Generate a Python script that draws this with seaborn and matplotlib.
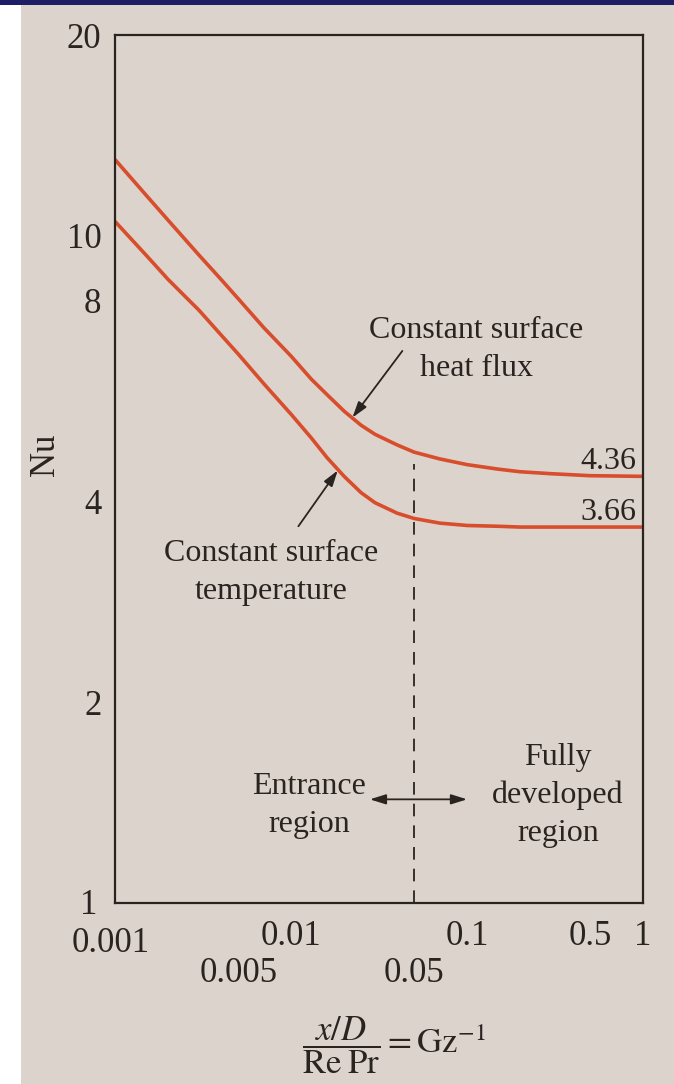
import matplotlib
matplotlib.use("Agg")
import matplotlib.pyplot as plt
import matplotlib.ticker as mticker
from matplotlib.patches import Rectangle
import pandas as pd
import seaborn as sns

# values (log-log)
gz_inv = [0.001, 0.0015, 0.002, 0.003, 0.004, 0.005, 0.007, 0.01, 0.013, 0.016,
          0.02, 0.025, 0.03, 0.04, 0.05, 0.07, 0.1, 0.15, 0.2, 0.3, 0.5, 1.0]
nu_heat_flux = [13.0, 11.5, 10.55, 9.35, 8.6, 8.05, 7.28, 6.6, 6.1, 5.78,
                5.46, 5.2, 5.04, 4.86, 4.74, 4.63, 4.54, 4.47, 4.43, 4.40, 4.37, 4.36]
nu_wall_temp = [10.5, 9.35, 8.6, 7.73, 7.1, 6.65, 6.0, 5.4, 4.98, 4.65,
                4.36, 4.12, 3.98, 3.84, 3.77, 3.71, 3.68, 3.67, 3.66, 3.66, 3.66, 3.66]

x_major = [0.001, 0.01, 0.1, 0.5, 1.0]
x_major_labels = ["", "0.01", "0.1", "0.5", "1"]   # 0.001 is placed by hand below
x_minor = [0.005, 0.05]
x_minor_labels = ["0.005", "0.05"]
y_ticks = [1, 2, 4, 8, 10, 20]
y_labels = ["", "2", "4", "8", "10", "20"]         # 1 is placed by hand at the corner

boundary_x = 0.05
fd_heat_flux = 4.36
fd_wall_temp = 3.66

paper = "#dcd3cc"
ink = "#2a2421"
red = "#d84d2c"

sns.set_theme(style="white")
plt.rcParams["font.family"] = ["Liberation Serif", "DejaVu Serif"]
plt.rcParams["mathtext.fontset"] = "stix"
plt.rcParams["text.color"] = ink

df = pd.DataFrame({
    "gz": gz_inv * 2,
    "nu": nu_heat_flux + nu_wall_temp,
    "case": ["heat flux"] * len(gz_inv) + ["temperature"] * len(gz_inv),
})

fig = plt.figure(figsize=(6.74, 10.84), dpi=100, facecolor=paper)
ax = fig.add_axes([0.171, 0.167, 0.783, 0.8007])
ax.set_facecolor(paper)

# scan artefacts: white strip on the left, dark rule on top
fig.patches.append(Rectangle((0, 0), 21 / 674, 1, transform=fig.transFigure,
                             facecolor="white", edgecolor="none", zorder=0))
fig.patches.append(Rectangle((0, 1 - 5 / 1084), 1, 5 / 1084, transform=fig.transFigure,
                             facecolor="#1e1e66", edgecolor="none", zorder=0))

sns.lineplot(data=df, x="gz", y="nu", hue="case", palette=[red, red],
             linewidth=2.6, legend=False, ax=ax, sort=False)

ax.set_xscale("log")
ax.set_yscale("log")
ax.set_xlim(0.001, 1)
ax.set_ylim(1, 20)
ax.set_xlabel("")

# boundary between entrance and fully developed region
ax.plot([boundary_x, boundary_x], [1, 4.55], color=ink, lw=1.3, dashes=(7, 5))

ax.xaxis.set_major_locator(mticker.FixedLocator(x_major))
ax.xaxis.set_major_formatter(mticker.FixedFormatter(x_major_labels))
ax.xaxis.set_minor_locator(mticker.FixedLocator(x_minor))
ax.xaxis.set_minor_formatter(mticker.FixedFormatter(x_minor_labels))
ax.yaxis.set_major_locator(mticker.FixedLocator(y_ticks))
ax.yaxis.set_major_formatter(mticker.FixedFormatter(y_labels))
ax.yaxis.set_minor_locator(mticker.NullLocator())

ax.tick_params(axis="x", which="major", direction="in", length=11, width=1.3,
               pad=12, labelsize=25, colors=ink)
ax.tick_params(axis="x", which="minor", direction="out", length=29, width=1.3,
               pad=10, labelsize=25, colors=ink)
ax.tick_params(axis="y", which="major", direction="in", length=11, width=1.3,
               pad=10, labelsize=25, colors=ink)

for s in ax.spines.values():
    s.set_color(ink)
    s.set_linewidth(1.6)

# corner labels
ax.annotate(y_ticks[0], xy=(x_major[0], y_ticks[0]), xytext=(-19, -2),
            textcoords="offset points", ha="center", va="center", fontsize=25)
ax.annotate("0.001", xy=(x_major[0], y_ticks[0]), xytext=(-3, -29),
            textcoords="offset points", ha="center", va="center", fontsize=25)

ax.set_ylabel("Nu", fontsize=25, color=ink)
ax.yaxis.set_label_coords(-0.10, 0.516)

fig.text(0.585, 1 - 1045 / 1084,
         r"$\dfrac{x/D}{\mathrm{Re\;Pr}} = \mathrm{Gz}^{-1}$",
         ha="center", va="center", fontsize=25, color=ink)

# curve labels with arrows
arrow_kw = dict(arrowstyle="-|>,head_length=0.8,head_width=0.25", color=ink,
                lw=1.3, shrinkA=0, shrinkB=0)
ax.text(0.684, 0.638, "Constant surface\nheat flux", transform=ax.transAxes,
        ha="center", va="center", fontsize=23, linespacing=1.4)
ax.annotate("", xy=(0.0223, 5.34), xytext=(0.544, 0.636), textcoords="axes fraction",
            arrowprops=arrow_kw)
ax.text(0.295, 0.381, "Constant surface\ntemperature", transform=ax.transAxes,
        ha="center", va="center", fontsize=23, linespacing=1.4)
ax.annotate("", xy=(0.0184, 4.45), xytext=(0.347, 0.434), textcoords="axes fraction",
            arrowprops=arrow_kw)

ax.annotate("4.36", xy=(1.0, fd_heat_flux), xytext=(-5, 5), textcoords="offset points",
            ha="right", va="baseline", fontsize=23)
ax.annotate("3.66", xy=(1.0, fd_wall_temp), xytext=(-5, 5), textcoords="offset points",
            ha="right", va="baseline", fontsize=23)

# entrance / fully developed regions
ax.annotate("", xy=(0.1, 1.43), xytext=(0.028, 1.43),
            arrowprops=dict(arrowstyle="<|-|>,head_length=0.8,head_width=0.25",
                            color=ink, lw=1.3, shrinkA=0, shrinkB=0))
ax.text(0.367, 0.112, "Entrance\nregion", transform=ax.transAxes,
        ha="center", va="center", fontsize=23, linespacing=1.4)
ax.text(0.839, 0.124, "Fully\ndeveloped\nregion", transform=ax.transAxes,
        ha="center", va="center", fontsize=23, linespacing=1.4)

fig.savefig("out.png", dpi=100, facecolor=paper)
